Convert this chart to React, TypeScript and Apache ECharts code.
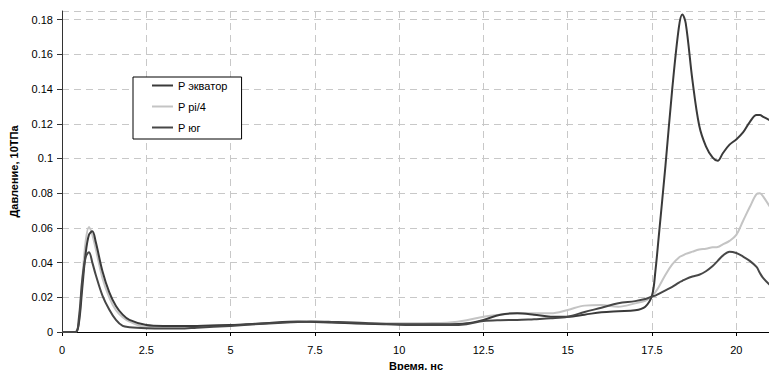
import React, { useEffect, useRef } from "react";
import * as echarts from "echarts";

const times = [
  0, 0.4, 0.5, 0.6, 0.7, 0.8, 0.9, 1.0, 1.2, 1.4, 1.6, 1.8, 2.0, 2.5, 3, 3.5, 4, 5, 6, 7, 7.5, 8, 9, 10, 11,
  11.5, 12, 12.5, 13, 13.5, 14, 14.5, 15, 15.5, 16, 16.5, 17, 17.3, 17.5, 17.6, 17.7, 17.9, 18.1, 18.3, 18.4,
  18.5, 18.7, 18.9, 19.1, 19.3, 19.45, 19.6, 19.8, 20.0, 20.2, 20.4, 20.6, 20.7, 20.8, 21,
];

const pEquator = [
  0, 0, 0.005, 0.025, 0.045, 0.056, 0.058, 0.052, 0.035, 0.023, 0.015, 0.01, 0.007, 0.004, 0.0035, 0.0035,
  0.0035, 0.004, 0.005, 0.006, 0.0058, 0.0055, 0.0048, 0.0045, 0.0045, 0.0045, 0.005, 0.007, 0.01, 0.0108,
  0.01, 0.0088, 0.0088, 0.01, 0.0114, 0.012, 0.0125, 0.0146, 0.021, 0.035, 0.055, 0.096, 0.14, 0.176, 0.183,
  0.178, 0.145, 0.119, 0.107, 0.1005, 0.0987, 0.103, 0.108, 0.111, 0.115, 0.121, 0.125, 0.125, 0.124, 0.122,
];

const pPi4 = [
  0, 0, 0.006, 0.03, 0.052, 0.0605, 0.056, 0.048, 0.031, 0.02, 0.0125, 0.0085, 0.006, 0.003, 0.003, 0.003,
  0.0032, 0.004, 0.005, 0.0058, 0.0058, 0.0055, 0.005, 0.005, 0.0052, 0.0055, 0.0068, 0.0088, 0.01, 0.0108,
  0.0108, 0.0108, 0.0127, 0.0152, 0.0155, 0.0146, 0.0165, 0.018, 0.0205, 0.023, 0.026, 0.033, 0.039, 0.043,
  0.044, 0.045, 0.0463, 0.0475, 0.048, 0.0488, 0.049, 0.0505, 0.0525, 0.056, 0.064, 0.072, 0.0795, 0.08,
  0.078, 0.072,
];

const pSouth = [
  0, 0, 0.008, 0.03, 0.043, 0.046, 0.04, 0.033, 0.021, 0.013, 0.007, 0.0035, 0.0028, 0.0022, 0.002, 0.002,
  0.0025, 0.0035, 0.0048, 0.0058, 0.006, 0.0058, 0.0052, 0.0042, 0.004, 0.004, 0.0045, 0.0063, 0.0068,
  0.0069, 0.0074, 0.0079, 0.0088, 0.0115, 0.014, 0.0166, 0.0178, 0.019, 0.0205, 0.021, 0.022, 0.024, 0.026,
  0.0285, 0.0295, 0.0305, 0.032, 0.033, 0.035, 0.038, 0.041, 0.044, 0.0463, 0.0455, 0.0435, 0.041, 0.0375,
  0.034, 0.031, 0.027,
];

const seriesNames = ["P экватор", "P pi/4", "P юг"];
const seriesColors = ["#3a3a3a", "#c4c4c4", "#474747"];
const xTitle = "Время, нс";
const yTitle = "Давление, 10ТПа";

const FONT = "Liberation Sans, Arial, sans-serif";

export default function App() {
  const ref = useRef<HTMLDivElement>(null);
  useEffect(() => {
    if (!ref.current) return;
    const chart = echarts.init(ref.current, undefined, { renderer: "svg" });
    const allValues = [pEquator, pPi4, pSouth];
    const gridLine = { show: true, lineStyle: { color: "#c8c8c8", type: [7, 5] as any, width: 1 } };
    chart.setOption({
      animation: false,
      backgroundColor: "#ffffff",
      textStyle: { fontFamily: FONT },
      grid: {
        left: 62,
        right: -1,
        top: 11,
        bottom: 38,
        containLabel: false,
        outerBoundsMode: "none",
      },
      legend: {
        orient: "vertical",
        left: 133,
        top: 77,
        data: seriesNames,
        icon: "rect",
        itemWidth: 21,
        itemHeight: 2,
        itemGap: 8,
        padding: [2, 14, 5, 19],
        backgroundColor: "#ffffff",
        borderColor: "#000000",
        borderWidth: 1,
        textStyle: { fontFamily: FONT, fontSize: 11, color: "#000", lineHeight: 13 },
      },
      xAxis: {
        type: "value",
        min: 0,
        max: 21,
        interval: 2.5,
        name: xTitle,
        nameLocation: "middle",
        nameGap: 28,
        nameTextStyle: { fontFamily: FONT, fontSize: 11, fontWeight: "bold", color: "#000" },
        axisLine: { show: true, onZero: false, lineStyle: { color: "#000", width: 1 } },
        axisTick: { show: true, length: 4, lineStyle: { color: "#000" } },
        axisLabel: { showMaxLabel: false, margin: 12, fontFamily: FONT, fontSize: 11, color: "#000" },
        splitLine: gridLine,
      },
      yAxis: {
        type: "value",
        min: 0,
        max: 0.185,
        interval: 0.02,
        name: yTitle,
        nameLocation: "middle",
        nameGap: 43,
        nameTextStyle: { fontFamily: FONT, fontSize: 11, fontWeight: "bold", color: "#000" },
        axisLine: { show: true, lineStyle: { color: "#333", width: 1 } },
        axisTick: { show: true, length: 5, lineStyle: { color: "#333" } },
        axisLabel: { showMaxLabel: false, margin: 9, fontFamily: FONT, fontSize: 11, color: "#000" },
        splitLine: gridLine,
      },
      series: seriesNames.map((name, i) => ({
        name,
        type: "line",
        symbol: "none",
        smooth: 0.35,
        z: i === 1 ? 2 : 3,
        data: times.map((t, k) => [t, allValues[i][k]]),
        lineStyle: { color: seriesColors[i], width: 2 },
        itemStyle: { color: seriesColors[i] },
      })),
    });
    return () => chart.dispose();
  }, []);
  return (
    <div
      ref={ref}
      style={{ position: "fixed", left: 0, top: 0, width: 769, height: 370, background: "#fff" }}
    />
  );
}
